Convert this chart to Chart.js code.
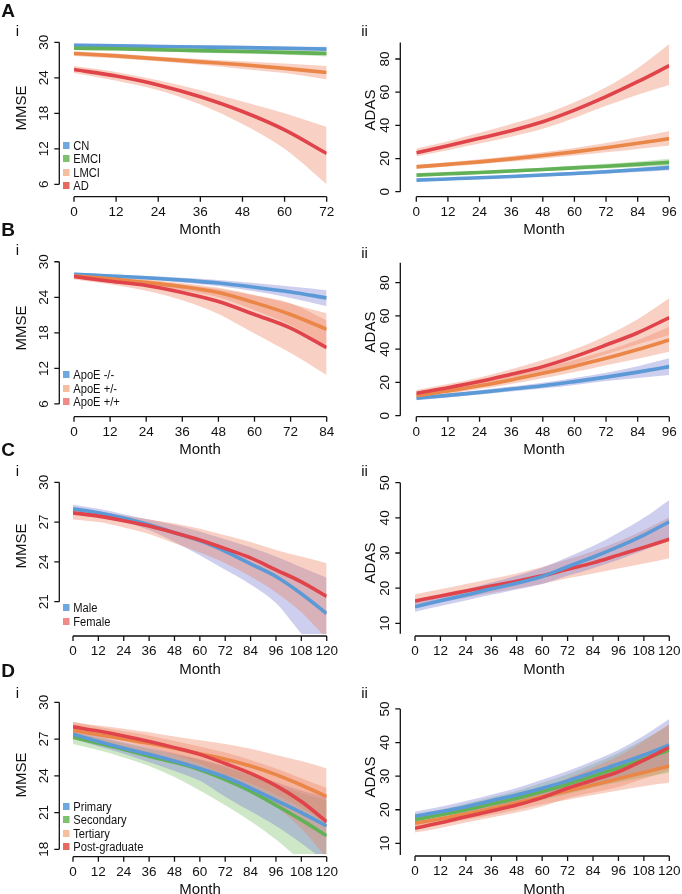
<!DOCTYPE html>
<html>
<head>
<meta charset="utf-8">
<script src="https://cdn.jsdelivr.net/npm/chart.js@4.4.1/dist/chart.umd.min.js"></script>
<style>
  body { margin: 0; background: #fff; font-family: "Liberation Sans", Arial, sans-serif; color: #111; }
  #page { position: relative; width: 682px; height: 894px; overflow: hidden; }
  canvas { position: absolute; }
  .t { position: absolute; white-space: nowrap; transform: translate(-50%, -50%); line-height: 1; }
  .rot { transform: translate(-50%, -50%) rotate(-90deg); }
  .leg { position: absolute; font-size: 12px; white-space: nowrap; line-height: 1; transform-origin: 0 50%; transform: scaleX(0.93); }
  .leg span { display: inline-block; width: 7px; height: 7px; margin-right: 4px; vertical-align: 1px; }
</style>
</head>
<body>
<div id="page"></div>
<script>
// ---- months ----
const m72 = [0, 12, 24, 36, 48, 60, 72];
const m84 = [0, 12, 24, 36, 48, 60, 72, 84];
const m96 = [0, 12, 24, 36, 48, 60, 72, 84, 96];
const m120 = [0, 12, 24, 36, 48, 60, 72, 84, 96, 108, 120];

// ---- A: diagnosis ----
const cnMmse = [29.5, 29.4, 29.3, 29.2, 29.1, 29.0, 28.85];
const cnMmseUp = [29.8, 29.7, 29.6, 29.5, 29.4, 29.3, 29.25];
const cnMmseLo = [29.2, 29.1, 29.0, 28.9, 28.8, 28.65, 28.45];
const emciMmse = [29.0, 28.9, 28.75, 28.6, 28.45, 28.3, 28.1];
const emciMmseUp = [29.3, 29.2, 29.05, 28.95, 28.8, 28.65, 28.55];
const emciMmseLo = [28.7, 28.6, 28.45, 28.25, 28.1, 27.9, 27.6];
const lmciMmse = [28.1, 27.7, 27.2, 26.7, 26.2, 25.6, 24.9];
const lmciMmseUp = [28.5, 28.1, 27.6, 27.2, 26.8, 26.4, 26.0];
const lmciMmseLo = [27.7, 27.3, 26.8, 26.2, 25.5, 24.8, 23.7];
const adMmse = [25.4, 24.3, 22.8, 20.8, 18.3, 15.2, 11.2];
const adMmseUp = [26.0, 25.0, 23.6, 21.9, 20.0, 18.0, 15.7];
const adMmseLo = [24.8, 23.5, 21.9, 19.5, 16.2, 12.0, 6.0];

const cnAdas = [7.0, 7.7, 8.4, 9.2, 10.1, 11.0, 12.0, 13.2, 14.5];
const cnAdasUp = [7.6, 8.4, 9.1, 10.0, 11.0, 12.0, 13.1, 14.5, 16.0];
const cnAdasLo = [6.4, 7.0, 7.7, 8.4, 9.2, 10.0, 10.9, 11.9, 13.0];
const emciAdas = [10.0, 10.8, 11.6, 12.5, 13.4, 14.4, 15.4, 16.5, 17.7];
const emciAdasUp = [10.8, 11.6, 12.5, 13.5, 14.5, 15.6, 16.8, 18.2, 19.9];
const emciAdasLo = [9.2, 10.0, 10.7, 11.5, 12.3, 13.2, 14.0, 14.9, 15.6];
const lmciAdas = [15.0, 16.5, 18.0, 19.8, 21.8, 24.0, 26.5, 29.2, 32.0];
const lmciAdasUp = [16.2, 17.8, 19.5, 21.5, 23.8, 26.4, 29.4, 32.8, 36.6];
const lmciAdasLo = [13.8, 15.2, 16.6, 18.2, 19.9, 21.8, 23.8, 25.8, 27.8];
const adAdas = [23.5, 27.7, 32.2, 36.8, 42.2, 49.2, 57.3, 66.3, 76.0];
const adAdasUp = [26.0, 30.5, 35.5, 40.8, 46.5, 54.0, 63.0, 74.5, 89.0];
const adAdasLo = [21.3, 25.0, 29.0, 33.2, 38.0, 44.5, 51.8, 58.5, 64.3];

// ---- B: ApoE ----
const apoNNMmse = [27.9, 27.6, 27.3, 26.9, 26.4, 25.7, 24.9, 23.9];
const apoNNMmseUp = [28.2, 27.9, 27.6, 27.3, 26.9, 26.4, 25.8, 25.2];
const apoNNMmseLo = [27.6, 27.3, 27.0, 26.5, 25.9, 25.0, 23.9, 22.5];
const apoPNMmse = [27.6, 27.1, 26.5, 25.8, 24.8, 23.1, 21.1, 18.6];
const apoPNMmseUp = [28.0, 27.5, 27.0, 26.4, 25.6, 24.4, 22.9, 21.3];
const apoPNMmseLo = [27.2, 26.7, 26.0, 25.2, 24.0, 21.8, 19.3, 15.9];
const apoPPMmse = [27.5, 26.7, 26.0, 24.8, 23.3, 21.1, 18.8, 15.5];
const apoPPMmseUp = [28.0, 27.2, 26.9, 26.1, 25.4, 24.3, 23.0, 20.1];
const apoPPMmseLo = [27.0, 26.2, 25.1, 23.5, 21.2, 17.9, 14.6, 10.9];

const apoNNAdas = [10.5, 12.2, 14.0, 16.0, 18.0, 20.5, 23.2, 26.2, 29.5];
const apoNNAdasUp = [11.7, 13.4, 15.3, 17.5, 19.8, 22.6, 25.8, 29.8, 34.5];
const apoNNAdasLo = [9.3, 11.0, 12.7, 14.5, 16.3, 18.5, 20.8, 22.7, 24.5];
const apoPNAdas = [12.0, 14.8, 18.0, 21.5, 25.5, 29.8, 34.5, 39.8, 45.5];
const apoPNAdasUp = [13.5, 16.5, 20.0, 24.0, 28.5, 33.5, 39.0, 45.5, 53.5];
const apoPNAdasLo = [10.5, 13.1, 16.0, 19.1, 22.5, 26.2, 30.3, 34.3, 38.5];
const apoPPAdas = [13.5, 16.8, 20.5, 24.9, 29.5, 35.5, 42.5, 49.9, 59.0];
const apoPPAdasUp = [15.5, 19.0, 23.0, 28.0, 33.5, 40.0, 48.0, 58.0, 70.6];
const apoPPAdasLo = [11.5, 14.6, 18.0, 22.0, 26.0, 31.0, 37.0, 43.0, 48.5];

// ---- C: sex ----
const maleMmse = [28.0, 27.7, 27.3, 26.8, 26.2, 25.6, 24.8, 23.85, 22.9, 21.6, 20.1];
const maleMmseUp = [28.3, 28.0, 27.6, 27.2, 26.8, 26.3, 25.7, 25.1, 24.4, 23.6, 22.8];
const maleMmseLo = [27.6, 27.4, 27.0, 26.4, 25.5, 24.5, 23.4, 22.3, 20.9, 18.6, 16.5];
const femaleMmse = [27.7, 27.45, 27.1, 26.7, 26.2, 25.65, 25.0, 24.3, 23.4, 22.5, 21.4];
const femaleMmseUp = [28.0, 27.8, 27.5, 27.2, 26.9, 26.5, 26.0, 25.5, 24.9, 24.4, 23.9];
const femaleMmseLo = [27.2, 27.0, 26.6, 26.1, 25.4, 24.7, 23.9, 22.9, 21.7, 20.2, 18.2];

const maleAdas = [14.7, 16.4, 18.05, 19.8, 21.4, 23.3, 26.1, 28.8, 31.8, 35.1, 38.9];
const maleAdasUp = [16.2, 18.0, 19.7, 21.6, 23.5, 25.8, 28.8, 32.0, 35.8, 40.0, 45.1];
const maleAdasLo = [13.3, 14.9, 16.5, 18.1, 19.6, 21.2, 23.5, 25.7, 28.1, 30.8, 33.7];
const femaleAdas = [16.35, 17.8, 19.2, 20.6, 22.0, 23.5, 25.4, 27.2, 29.4, 31.6, 33.9];
const femaleAdasUp = [18.3, 19.7, 21.2, 22.7, 24.2, 26.0, 28.2, 30.5, 33.3, 36.5, 40.2];
const femaleAdasLo = [14.7, 16.0, 17.3, 18.6, 19.9, 21.2, 22.8, 24.2, 25.6, 27.0, 28.5];

// ---- D: education ----
const primMmse = [27.4, 26.8, 26.25, 25.75, 25.2, 24.6, 23.9, 23.0, 22.0, 21.0, 19.9];
const primMmseUp = [27.8, 27.25, 26.75, 26.3, 25.85, 25.35, 24.8, 24.15, 23.5, 22.8, 22.3];
const primMmseLo = [27.0, 26.4, 25.8, 25.1, 24.4, 23.6, 22.3, 21.1, 19.9, 18.5, 16.9];
const secMmse = [27.15, 26.65, 26.15, 25.6, 25.1, 24.5, 23.7, 22.75, 21.6, 20.4, 19.1];
const secMmseUp = [27.55, 27.1, 26.65, 26.2, 25.75, 25.3, 24.7, 24.0, 23.3, 22.6, 22.0];
const secMmseLo = [26.6, 26.1, 25.5, 24.8, 23.9, 22.8, 21.6, 20.3, 18.8, 17.0, 15.0];
const terMmse = [27.7, 27.35, 27.0, 26.65, 26.25, 25.8, 25.35, 24.8, 24.1, 23.25, 22.3];
const terMmseUp = [28.4, 28.1, 27.85, 27.55, 27.2, 26.9, 26.6, 26.2, 25.7, 25.2, 24.6];
const terMmseLo = [27.0, 26.6, 26.2, 25.75, 25.3, 24.7, 24.1, 23.4, 22.5, 21.4, 20.1];
const postMmse = [28.0, 27.65, 27.25, 26.8, 26.3, 25.75, 25.0, 24.2, 23.2, 21.9, 20.25];
const postMmseUp = [28.4, 28.0, 27.65, 27.3, 26.85, 26.4, 25.9, 25.3, 24.6, 23.8, 23.0];
const postMmseLo = [27.6, 27.3, 26.85, 26.3, 25.7, 25.0, 24.0, 22.9, 21.5, 19.7, 17.3];

const primAdas = [18.1, 19.4, 20.9, 22.7, 24.4, 26.4, 28.6, 31.1, 33.6, 36.3, 39.3];
const primAdasUp = [19.4, 20.9, 22.6, 24.5, 26.5, 28.9, 31.5, 34.5, 37.8, 42.0, 47.0];
const primAdasLo = [16.8, 18.0, 19.3, 20.9, 22.4, 24.0, 25.9, 27.9, 29.6, 31.2, 32.5];
const secAdas = [17.1, 18.5, 20.0, 21.7, 23.4, 25.4, 27.6, 30.0, 32.5, 35.1, 37.8];
const secAdasUp = [18.6, 20.1, 21.8, 23.7, 25.6, 28.0, 30.6, 33.6, 36.9, 40.8, 45.2];
const secAdasLo = [15.6, 16.9, 18.3, 19.8, 21.3, 22.9, 24.7, 26.6, 28.2, 29.7, 31.0];
const terAdas = [16.0, 17.3, 18.7, 20.3, 22.0, 23.9, 25.6, 27.4, 29.2, 31.1, 33.0];
const terAdasUp = [17.5, 18.9, 20.4, 22.2, 24.0, 26.1, 28.1, 30.4, 32.9, 35.6, 38.5];
const terAdasLo = [14.5, 15.7, 17.0, 18.4, 19.9, 21.6, 23.0, 24.4, 25.7, 27.0, 28.0];
const postAdas = [14.5, 16.1, 17.9, 19.6, 21.4, 23.6, 26.4, 28.8, 31.3, 34.8, 38.6];
const postAdasUp = [15.8, 17.6, 19.6, 21.6, 23.7, 26.2, 29.4, 32.6, 36.0, 40.5, 45.5];
const postAdasLo = [13.2, 14.6, 16.2, 17.7, 19.2, 21.0, 23.4, 25.1, 26.8, 29.2, 31.7];

// ---- tick labels ----
const mmseTicksA = [6, 12, 18, 24, 30];
const mmseTicksC = [21, 24, 27, 30];
const mmseTicksD = [18, 21, 24, 27, 30];
const adasTicksA = [0, 20, 40, 60, 80];
const adasTicksC = [10, 20, 30, 40, 50];

// colours
const BLUE = "#5b9ad6", GREEN = "#62b156", ORANGE = "#ea8748", RED = "#e0434a";
const LAV = "rgba(125,125,210,0.38)", SAL = "rgba(236,128,92,0.36)", GRN = "rgba(120,190,100,0.36)";

// R style detached axes, drawn from the chart scales
const rAxis = {
  id: "rAxis",
  afterDraw(chart, args, o) {
    const { ctx, scales: { x, y } } = chart;
    ctx.save();
    ctx.strokeStyle = "#111";
    ctx.fillStyle = "#111";
    ctx.lineWidth = 1.3;
    ctx.font = '13.5px "Liberation Sans", Arial, sans-serif';
    // x axis
    const xa = x.getPixelForValue(o.xTicks[0]);
    const xb = x.getPixelForValue(o.xTicks[o.xTicks.length - 1]);
    ctx.beginPath();
    ctx.moveTo(xa, o.axisY);
    ctx.lineTo(xb, o.axisY);
    o.xTicks.forEach((v) => {
      const px = x.getPixelForValue(v);
      ctx.moveTo(px, o.axisY);
      ctx.lineTo(px, o.axisY + 5);
    });
    ctx.stroke();
    ctx.textAlign = "center";
    ctx.textBaseline = "middle";
    o.xTicks.forEach((v) => ctx.fillText(String(v), x.getPixelForValue(v), o.axisY + 15.5));
    // y axis
    ctx.beginPath();
    ctx.moveTo(o.axisX, y.getPixelForValue(o.yLine[0]));
    ctx.lineTo(o.axisX, y.getPixelForValue(o.yLine[1]));
    o.yTicks.forEach((v) => {
      const py = y.getPixelForValue(v);
      ctx.moveTo(o.axisX, py);
      ctx.lineTo(o.axisX - 5, py);
    });
    ctx.stroke();
    o.yTicks.forEach((v) => {
      ctx.save();
      ctx.translate(o.axisX - 15.5, y.getPixelForValue(v));
      ctx.rotate(-Math.PI / 2);
      ctx.fillText(String(v), 0, 0);
      ctx.restore();
    });
    ctx.restore();
  },
};

function bandSets(months, series) {
  const pts = (arr) => months.map((m, i) => ({ x: m, y: arr[i] }));
  const sets = [];
  // lines first in the list so they are painted above the bands
  series.forEach((s) => {
    sets.push({
      data: pts(s.line), borderColor: s.color, borderWidth: 3.6,
      pointRadius: 0, fill: false, cubicInterpolationMode: "monotone",
      borderCapStyle: "butt",
    });
  });
  series.forEach((s) => {
    sets.push({
      data: pts(s.up), borderColor: "rgba(0,0,0,0)", borderWidth: 0,
      backgroundColor: s.band, pointRadius: 0, fill: "+1", clip: 0,
      cubicInterpolationMode: "monotone",
    });
    sets.push({
      data: pts(s.lo), borderColor: "rgba(0,0,0,0)", borderWidth: 0,
      pointRadius: 0, fill: false, clip: 0, cubicInterpolationMode: "monotone",
    });
  });
  return sets;
}

const panels = [
  { left: 0, top: 0, w: 341, h: 220, months: m72, yMin: 5, yMax: 31,
    pad: { left: 74, right: 14.3, top: 36.4, bottom: 29.8 },
    axisX: 59.3, axisY: 196.7, yTicks: mmseTicksA, yLine: [6, 30],
    series: [
      { line: adMmse, up: adMmseUp, lo: adMmseLo, color: RED, band: SAL },
      { line: lmciMmse, up: lmciMmseUp, lo: lmciMmseLo, color: ORANGE, band: SAL },
      { line: emciMmse, up: emciMmseUp, lo: emciMmseLo, color: GREEN, band: GRN },
      { line: cnMmse, up: cnMmseUp, lo: cnMmseLo, color: BLUE, band: LAV },
    ] },
  { left: 341, top: 0, w: 341, h: 220, months: m96, yMin: -3, yMax: 92,
    pad: { left: 75.3, right: 12.7, top: 39.1, bottom: 23.3 },
    axisX: 59.3, axisY: 196.7, yTicks: adasTicksA, yLine: [0, 90],
    series: [
      { line: adAdas, up: adAdasUp, lo: adAdasLo, color: RED, band: SAL },
      { line: lmciAdas, up: lmciAdasUp, lo: lmciAdasLo, color: ORANGE, band: SAL },
      { line: emciAdas, up: emciAdasUp, lo: emciAdasLo, color: GREEN, band: GRN },
      { line: cnAdas, up: cnAdasUp, lo: cnAdasLo, color: BLUE, band: LAV },
    ] },
  { left: 0, top: 220, w: 341, h: 220, months: m84, yMin: 5, yMax: 31,
    pad: { left: 74, right: 14.3, top: 35.8, bottom: 30.1 },
    axisX: 59.3, axisY: 196.7, yTicks: mmseTicksA, yLine: [6, 30],
    series: [
      { line: apoPPMmse, up: apoPPMmseUp, lo: apoPPMmseLo, color: RED, band: SAL },
      { line: apoPNMmse, up: apoPNMmseUp, lo: apoPNMmseLo, color: ORANGE, band: SAL },
      { line: apoNNMmse, up: apoNNMmseUp, lo: apoNNMmseLo, color: BLUE, band: LAV },
    ] },
  { left: 341, top: 220, w: 341, h: 220, months: m96, yMin: -0.5, yMax: 92,
    pad: { left: 75.3, right: 12.7, top: 42.75, bottom: 23.5 },
    axisX: 59.3, axisY: 196.7, yTicks: adasTicksA, yLine: [0, 92],
    series: [
      { line: apoPPAdas, up: apoPPAdasUp, lo: apoPPAdasLo, color: RED, band: SAL },
      { line: apoPNAdas, up: apoPNAdasUp, lo: apoPNAdasLo, color: ORANGE, band: SAL },
      { line: apoNNAdas, up: apoNNAdasUp, lo: apoNNAdasLo, color: BLUE, band: LAV },
    ] },
  { left: 0, top: 440, w: 341, h: 220, months: m120, yMin: 18.55, yMax: 30.4,
    pad: { left: 73, right: 14.3, top: 37, bottom: 25.8 },
    axisX: 59.3, axisY: 196, yTicks: mmseTicksC, yLine: [21, 30],
    series: [
      { line: femaleMmse, up: femaleMmseUp, lo: femaleMmseLo, color: RED, band: SAL },
      { line: maleMmse, up: maleMmseUp, lo: maleMmseLo, color: BLUE, band: LAV },
    ] },
  { left: 341, top: 440, w: 341, h: 220, months: m120, yMin: 8.5, yMax: 51,
    pad: { left: 74, right: 12.7, top: 39.2, bottom: 31.4 },
    axisX: 59.3, axisY: 196, yTicks: adasTicksC, yLine: [7, 50],
    series: [
      { line: maleAdas, up: maleAdasUp, lo: maleAdasLo, color: BLUE, band: LAV },
      { line: femaleAdas, up: femaleAdasUp, lo: femaleAdasLo, color: RED, band: SAL },
    ] },
  { left: 0, top: 660, w: 341, h: 234, months: m120, yMin: 17.6, yMax: 30.4,
    pad: { left: 73, right: 14.3, top: 37.4, bottom: 39.8 },
    axisX: 59.3, axisY: 196.7, yTicks: mmseTicksD, yLine: [18, 30],
    series: [
      { line: postMmse, up: postMmseUp, lo: postMmseLo, color: RED, band: SAL },
      { line: terMmse, up: terMmseUp, lo: terMmseLo, color: ORANGE, band: SAL },
      { line: primMmse, up: primMmseUp, lo: primMmseLo, color: BLUE, band: LAV },
      { line: secMmse, up: secMmseUp, lo: secMmseLo, color: GREEN, band: GRN },
    ] },
  { left: 341, top: 660, w: 341, h: 234, months: m120, yMin: 6.5, yMax: 51,
    pad: { left: 74, right: 12.7, top: 45.6, bottom: 38.9 },
    axisX: 59.3, axisY: 196, yTicks: adasTicksC, yLine: [6.5, 50],
    series: [
      { line: postAdas, up: postAdasUp, lo: postAdasLo, color: RED, band: SAL },
      { line: primAdas, up: primAdasUp, lo: primAdasLo, color: BLUE, band: LAV },
      { line: secAdas, up: secAdasUp, lo: secAdasLo, color: GREEN, band: GRN },
      { line: terAdas, up: terAdasUp, lo: terAdasLo, color: ORANGE, band: SAL },
    ] },
];

const page = document.getElementById("page");

panels.forEach((p) => {
  const cv = document.createElement("canvas");
  cv.width = p.w;
  cv.height = p.h;
  cv.style.left = p.left + "px";
  cv.style.top = p.top + "px";
  page.appendChild(cv);
  new Chart(cv, {
    type: "line",
    data: { datasets: bandSets(p.months, p.series) },
    plugins: [rAxis],
    options: {
      responsive: false,
      animation: false,
      devicePixelRatio: 1,
      layout: { padding: p.pad },
      scales: {
        x: { type: "linear", display: false, min: 0, max: p.months[p.months.length - 1] },
        y: { type: "linear", display: false, min: p.yMin, max: p.yMax },
      },
      plugins: {
        legend: { display: false },
        tooltip: { enabled: false },
        filler: { drawTime: "beforeDatasetsDraw" },
        rAxis: { xTicks: p.months, yTicks: p.yTicks, yLine: p.yLine, axisX: p.axisX, axisY: p.axisY },
      },
    },
  });
});

// text
function text(str, x, y, css, rot) {
  const d = document.createElement("div");
  d.className = "t" + (rot ? " rot" : "");
  d.textContent = str;
  d.style.left = x + "px";
  d.style.top = y + "px";
  d.style.cssText += css;
  page.appendChild(d);
}
const big = "font-size:19px;font-weight:bold;";
text("A", 8, 10, big); text("B", 8, 229, big); text("C", 8, 449, big); text("D", 8, 670, big);
const sub = "font-size:15px;";
text("i", 17.5, 30, sub); text("ii", 364.5, 30, sub);
text("i", 17.5, 249, sub); text("ii", 364.5, 252, sub);
text("i", 17.5, 470, sub); text("ii", 364.5, 470, sub);
text("i", 17.5, 692, sub); text("ii", 364.5, 692, sub);
const ax = "font-size:15px;";
text("MMSE", 20, 108, ax, true); text("ADAS", 368.5, 110, ax, true);
text("MMSE", 20, 328, ax, true); text("ADAS", 368.5, 332, ax, true);
text("MMSE", 20, 546, ax, true); text("ADAS", 368.5, 563, ax, true);
text("MMSE", 20, 775, ax, true); text("ADAS", 368.5, 777, ax, true);
text("Month", 200, 228, ax); text("Month", 544, 228, ax);
text("Month", 200, 448, ax); text("Month", 544, 448, ax);
text("Month", 200, 668, ax); text("Month", 544, 668, ax);
text("Month", 200, 888, ax); text("Month", 544, 888, ax);

// legends
function legend(items, x, y0, step) {
  items.forEach((it, i) => {
    const d = document.createElement("div");
    d.className = "leg";
    d.style.left = x + "px";
    d.style.top = (y0 + i * step - 6) + "px";
    d.innerHTML = '<span style="background:' + it[1] + '"></span>' + it[0];
    page.appendChild(d);
  });
}
const LB = "#6fa8dc", LG = "#7dc06e", LS = "#f5bf9f", LR = "#e36b62", LP = "#f08a85";
legend([["CN", LB], ["EMCI", LG], ["LMCI", LS], ["AD", LR]], 63, 146, 13.3);
legend([["ApoE -/-", LB], ["ApoE +/-", LS], ["ApoE +/+", LP]], 63, 375, 13.6);
legend([["Male", LB], ["Female", LP]], 63, 608, 14);
legend([["Primary", LB], ["Secondary", LG], ["Tertiary", LS], ["Post-graduate", LR]], 63, 807, 13.4);
</script>
</body>
</html>
